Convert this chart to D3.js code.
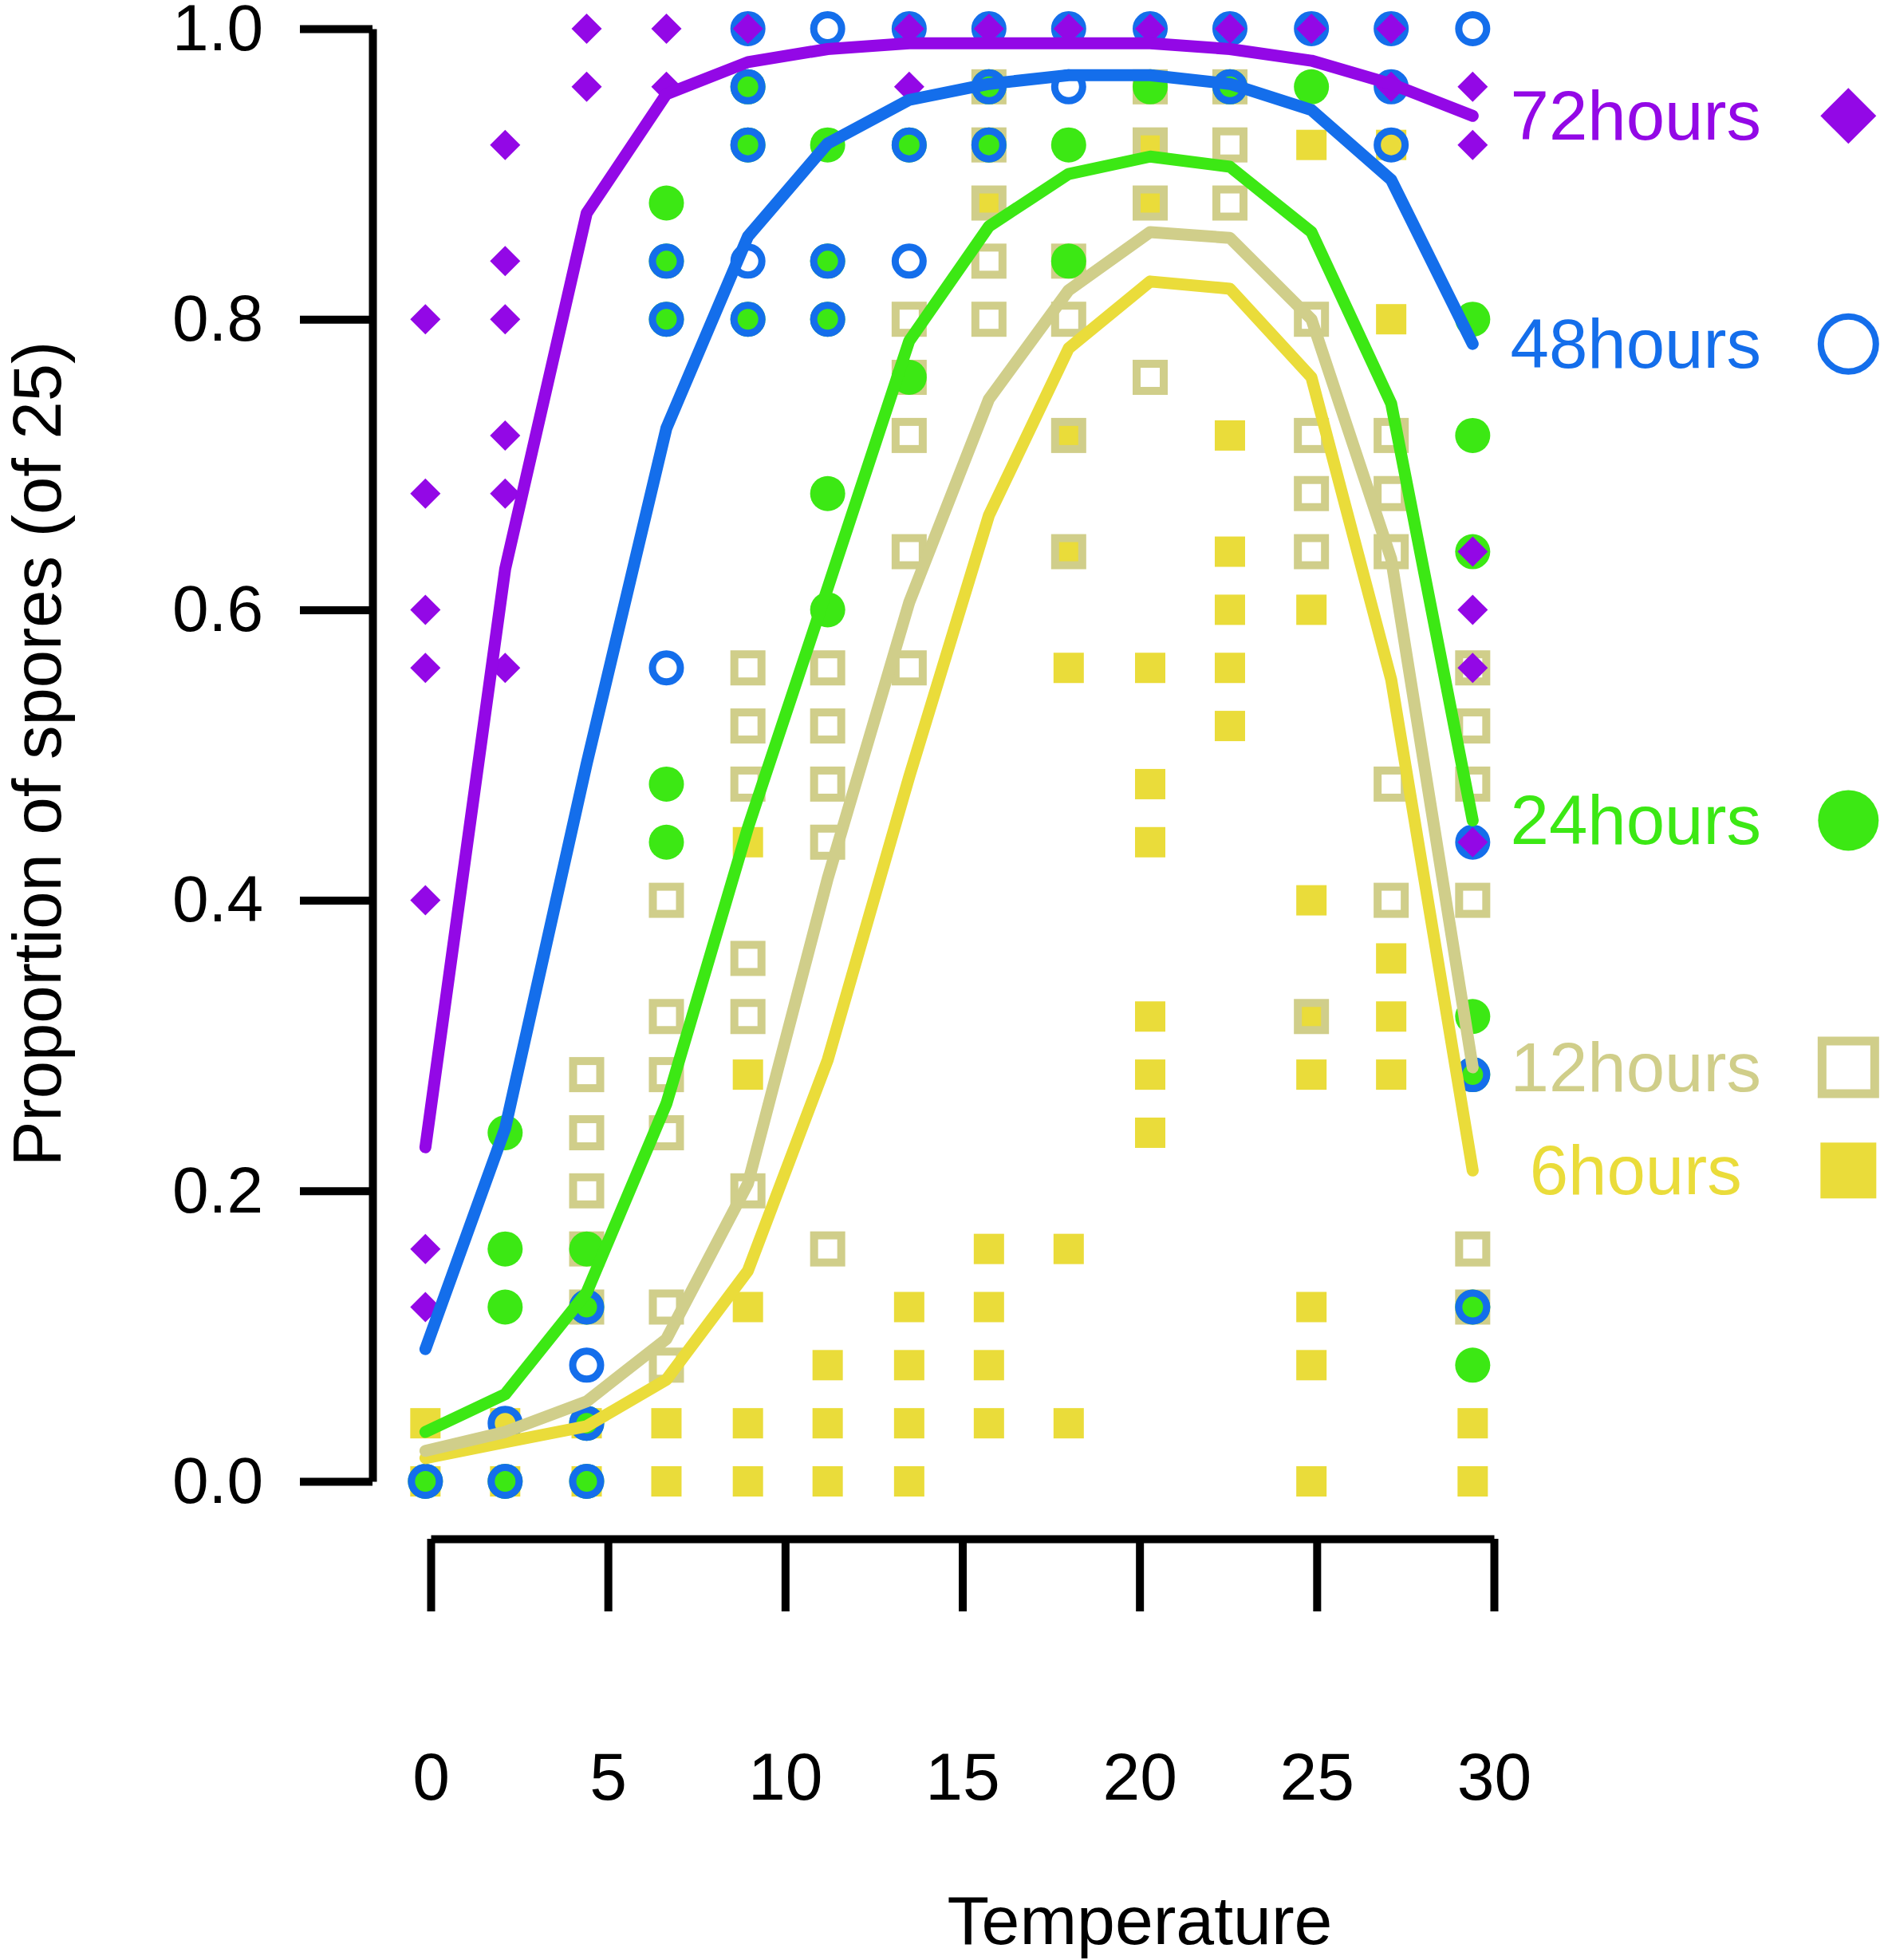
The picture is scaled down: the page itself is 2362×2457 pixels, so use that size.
<!DOCTYPE html>
<html>
<head>
<meta charset="utf-8">
<script src="https://cdn.jsdelivr.net/npm/d3@7"></script>
<style>
  body { margin: 0; background: #fff; }
  text { font-family: "Liberation Sans", Arial, sans-serif; }
</style>
</head>
<body>
<div id="chart"></div>
<script>
// temperature levels (the points sit slightly off the axis numbers in the original)
const temps = [-0.15, 2.1, 4.4, 6.65, 8.95, 11.2, 13.5, 15.75, 18.0, 20.3, 22.55, 24.85, 27.1, 29.4];

const groupNames = ["6hours", "12hours", "24hours", "48hours", "72hours"];
const groupColors = ["#EADC3A", "#D0CE8A", "#3CE814", "#146EEB", "#9308E6"];

// observed proportions at each temperature level
const obs6h = [
  [0.04, 0], [0.04, 0], [0.04, 0], [0.04, 0],
  [0.44, 0.28, 0.12, 0.04, 0],
  [0.08, 0.04, 0],
  [0.12, 0.08, 0.04, 0],
  [0.88, 0.16, 0.12, 0.08, 0.04],
  [0.72, 0.64, 0.56, 0.16, 0.04],
  [0.92, 0.88, 0.56, 0.48, 0.44, 0.32, 0.28, 0.24],
  [0.72, 0.64, 0.60, 0.56, 0.52],
  [0.92, 0.60, 0.40, 0.32, 0.28, 0.12, 0.08, 0],
  [0.92, 0.80, 0.36, 0.32, 0.28],
  [0.04, 0]
];
const obs12h = [
  [], [],
  [0.28, 0.24, 0.20, 0.16, 0.12],
  [0.40, 0.32, 0.28, 0.24, 0.12, 0.08],
  [0.56, 0.52, 0.48, 0.36, 0.32, 0.20],
  [0.56, 0.52, 0.48, 0.44, 0.16],
  [0.80, 0.76, 0.72, 0.64, 0.56],
  [0.96, 0.92, 0.88, 0.84, 0.80],
  [0.84, 0.80, 0.72, 0.64],
  [0.96, 0.92, 0.88, 0.76],
  [0.96, 0.92, 0.88],
  [0.80, 0.72, 0.68, 0.64, 0.32],
  [0.72, 0.68, 0.64, 0.48, 0.40],
  [0.56, 0.52, 0.48, 0.40, 0.16, 0.12]
];
const obs24h = [
  [0],
  [0.24, 0.16, 0.12, 0],
  [0.16, 0.12, 0.04, 0],
  [0.88, 0.84, 0.80, 0.48, 0.44],
  [0.96, 0.92, 0.80],
  [0.92, 0.84, 0.80, 0.68, 0.60],
  [0.92, 0.76],
  [0.96, 0.92],
  [0.92, 0.84],
  [0.96], [0.96], [0.96], [],
  [0.80, 0.72, 0.64, 0.32, 0.28, 0.12, 0.08]
];
const obs48h = [
  [0],
  [0.04, 0],
  [0.12, 0.08, 0.04, 0],
  [0.84, 0.80, 0.56],
  [1.0, 0.96, 0.92, 0.84, 0.80],
  [1.0, 0.84, 0.80],
  [1.0, 0.92, 0.84],
  [1.0, 0.96, 0.92],
  [1.0, 0.96],
  [1.0],
  [1.0, 0.96],
  [1.0],
  [1.0, 0.96, 0.92],
  [1.0, 0.44, 0.28, 0.12]
];
const obs72h = [
  [0.80, 0.68, 0.60, 0.56, 0.40, 0.16, 0.12],
  [0.92, 0.84, 0.80, 0.72, 0.68, 0.56],
  [1.0, 0.96],
  [1.0, 0.96],
  [1.0],
  [],
  [1.0, 0.96],
  [1.0], [1.0], [1.0], [1.0], [1.0],
  [1.0, 0.96],
  [0.96, 0.92, 0.64, 0.60, 0.56, 0.44]
];

// fitted curves
const fit6h  = [0.016, 0.027, 0.038, 0.07, 0.145, 0.29, 0.485, 0.665, 0.78, 0.826, 0.821, 0.76, 0.552, 0.214];
const fit12h = [0.021, 0.034, 0.055, 0.098, 0.205, 0.415, 0.605, 0.745, 0.82, 0.86, 0.856, 0.80, 0.635, 0.285];
const fit24h = [0.034, 0.06, 0.13, 0.26, 0.45, 0.615, 0.785, 0.864, 0.90, 0.912, 0.905, 0.86, 0.742, 0.455];
const fit48h = [0.091, 0.243, 0.494, 0.725, 0.857, 0.921, 0.951, 0.962, 0.968, 0.968, 0.962, 0.944, 0.896, 0.783];
const fit72h = [0.23, 0.628, 0.873, 0.955, 0.977, 0.986, 0.99, 0.99, 0.99, 0.99, 0.986, 0.978, 0.962, 0.94];

const yTicks = [0, 0.2, 0.4, 0.6, 0.8, 1.0];
const xTicks = [0, 5, 10, 15, 20, 25, 30];

const obsAll = [obs6h, obs12h, obs24h, obs48h, obs72h];
const fitAll = [fit6h, fit12h, fit24h, fit48h, fit72h];

const width = 2362, height = 2457;

const svg = d3.select("#chart")
    .append("svg")
    .attr("width", width)
    .attr("height", height);

svg.append("rect").attr("width", width).attr("height", height).attr("fill", "#fff");

const x = d3.scaleLinear().domain([0, 30]).range([540, 1873]);
const y = d3.scaleLinear().domain([0, 1]).range([1857, 36]);

// draw one marker of group g at (cx, cy); big = legend version
function marker(sel, g, cx, cy, big) {
    const col = groupColors[g];
    if (g === 0) {
        const s = big ? 70 : 38;
        sel.append("rect").attr("x", cx - s / 2).attr("y", cy - s / 2)
            .attr("width", s).attr("height", s).attr("fill", col);
    } else if (g === 1) {
        const s = big ? 66 : 34;
        sel.append("rect").attr("x", cx - s / 2).attr("y", cy - s / 2)
            .attr("width", s).attr("height", s).attr("fill", "none")
            .attr("stroke", col).attr("stroke-width", big ? 11 : 10);
    } else if (g === 2) {
        sel.append("circle").attr("cx", cx).attr("cy", cy).attr("r", big ? 38 : 22).attr("fill", col);
    } else if (g === 3) {
        sel.append("circle").attr("cx", cx).attr("cy", cy).attr("r", big ? 34.5 : 17.5)
            .attr("fill", "none").attr("stroke", col).attr("stroke-width", big ? 8 : 9);
    } else {
        const h = big ? 35 : 19;
        sel.append("path")
            .attr("d", `M${cx},${cy - h}L${cx + h},${cy}L${cx},${cy + h}L${cx - h},${cy}Z`)
            .attr("fill", col);
    }
}

// points, group by group
const pts = svg.append("g");
obsAll.forEach((obs, g) => {
    obs.forEach((vals, i) => {
        vals.forEach(v => marker(pts, g, x(temps[i]), y(v), false));
    });
});

// fitted lines
const line = d3.line()
    .x((d, i) => x(temps[i]))
    .y(d => y(d));

fitAll.forEach((fit, g) => {
    svg.append("path")
        .datum(fit)
        .attr("d", line)
        .attr("fill", "none")
        .attr("stroke", groupColors[g])
        .attr("stroke-width", 15)
        .attr("stroke-linejoin", "round")
        .attr("stroke-linecap", "round");
});

// y axis
const yAxis = svg.append("g")
    .attr("transform", "translate(467,0)")
    .call(d3.axisLeft(y).tickValues(yTicks).tickFormat(d3.format(".1f"))
        .tickSizeInner(91).tickSizeOuter(0).tickPadding(46));
yAxis.select(".domain").attr("stroke", "#000").attr("stroke-width", 10);
yAxis.selectAll(".tick line").attr("stroke", "#000").attr("stroke-width", 10);
yAxis.selectAll(".tick text").attr("font-size", 82).attr("fill", "#000")
    .attr("font-family", "Liberation Sans, Arial, sans-serif");

// x axis (detached below the plot)
const xAxis = svg.append("g")
    .attr("transform", "translate(0,1929)")
    .call(d3.axisBottom(x).tickValues(xTicks).tickFormat(d3.format("d"))
        .tickSizeInner(91).tickSizeOuter(0).tickPadding(176));
xAxis.select(".domain").attr("stroke", "#000").attr("stroke-width", 10);
xAxis.selectAll(".tick line").attr("stroke", "#000").attr("stroke-width", 10);
xAxis.selectAll(".tick text").attr("font-size", 84).attr("fill", "#000")
    .attr("font-family", "Liberation Sans, Arial, sans-serif");

// axis titles
svg.append("text")
    .attr("x", 1429).attr("y", 2437)
    .attr("text-anchor", "middle")
    .attr("font-size", 86)
    .text("Temperature");

svg.append("text")
    .attr("transform", "translate(76,945) rotate(-90)")
    .attr("text-anchor", "middle")
    .attr("font-size", 85)
    .text("Proportion of spores (of 25)");

// labels at the end of each curve, with a marker
const legend = svg.append("g");
fitAll.forEach((fit, g) => {
    const ly = y(fit[fit.length - 1]);
    legend.append("text")
        .attr("x", x(34)).attr("y", ly + 30)
        .attr("text-anchor", "middle")
        .attr("font-size", 87)
        .attr("fill", groupColors[g])
        .text(groupNames[g]);
    marker(legend, g, x(40), ly, true);
});
</script>
</body>
</html>
